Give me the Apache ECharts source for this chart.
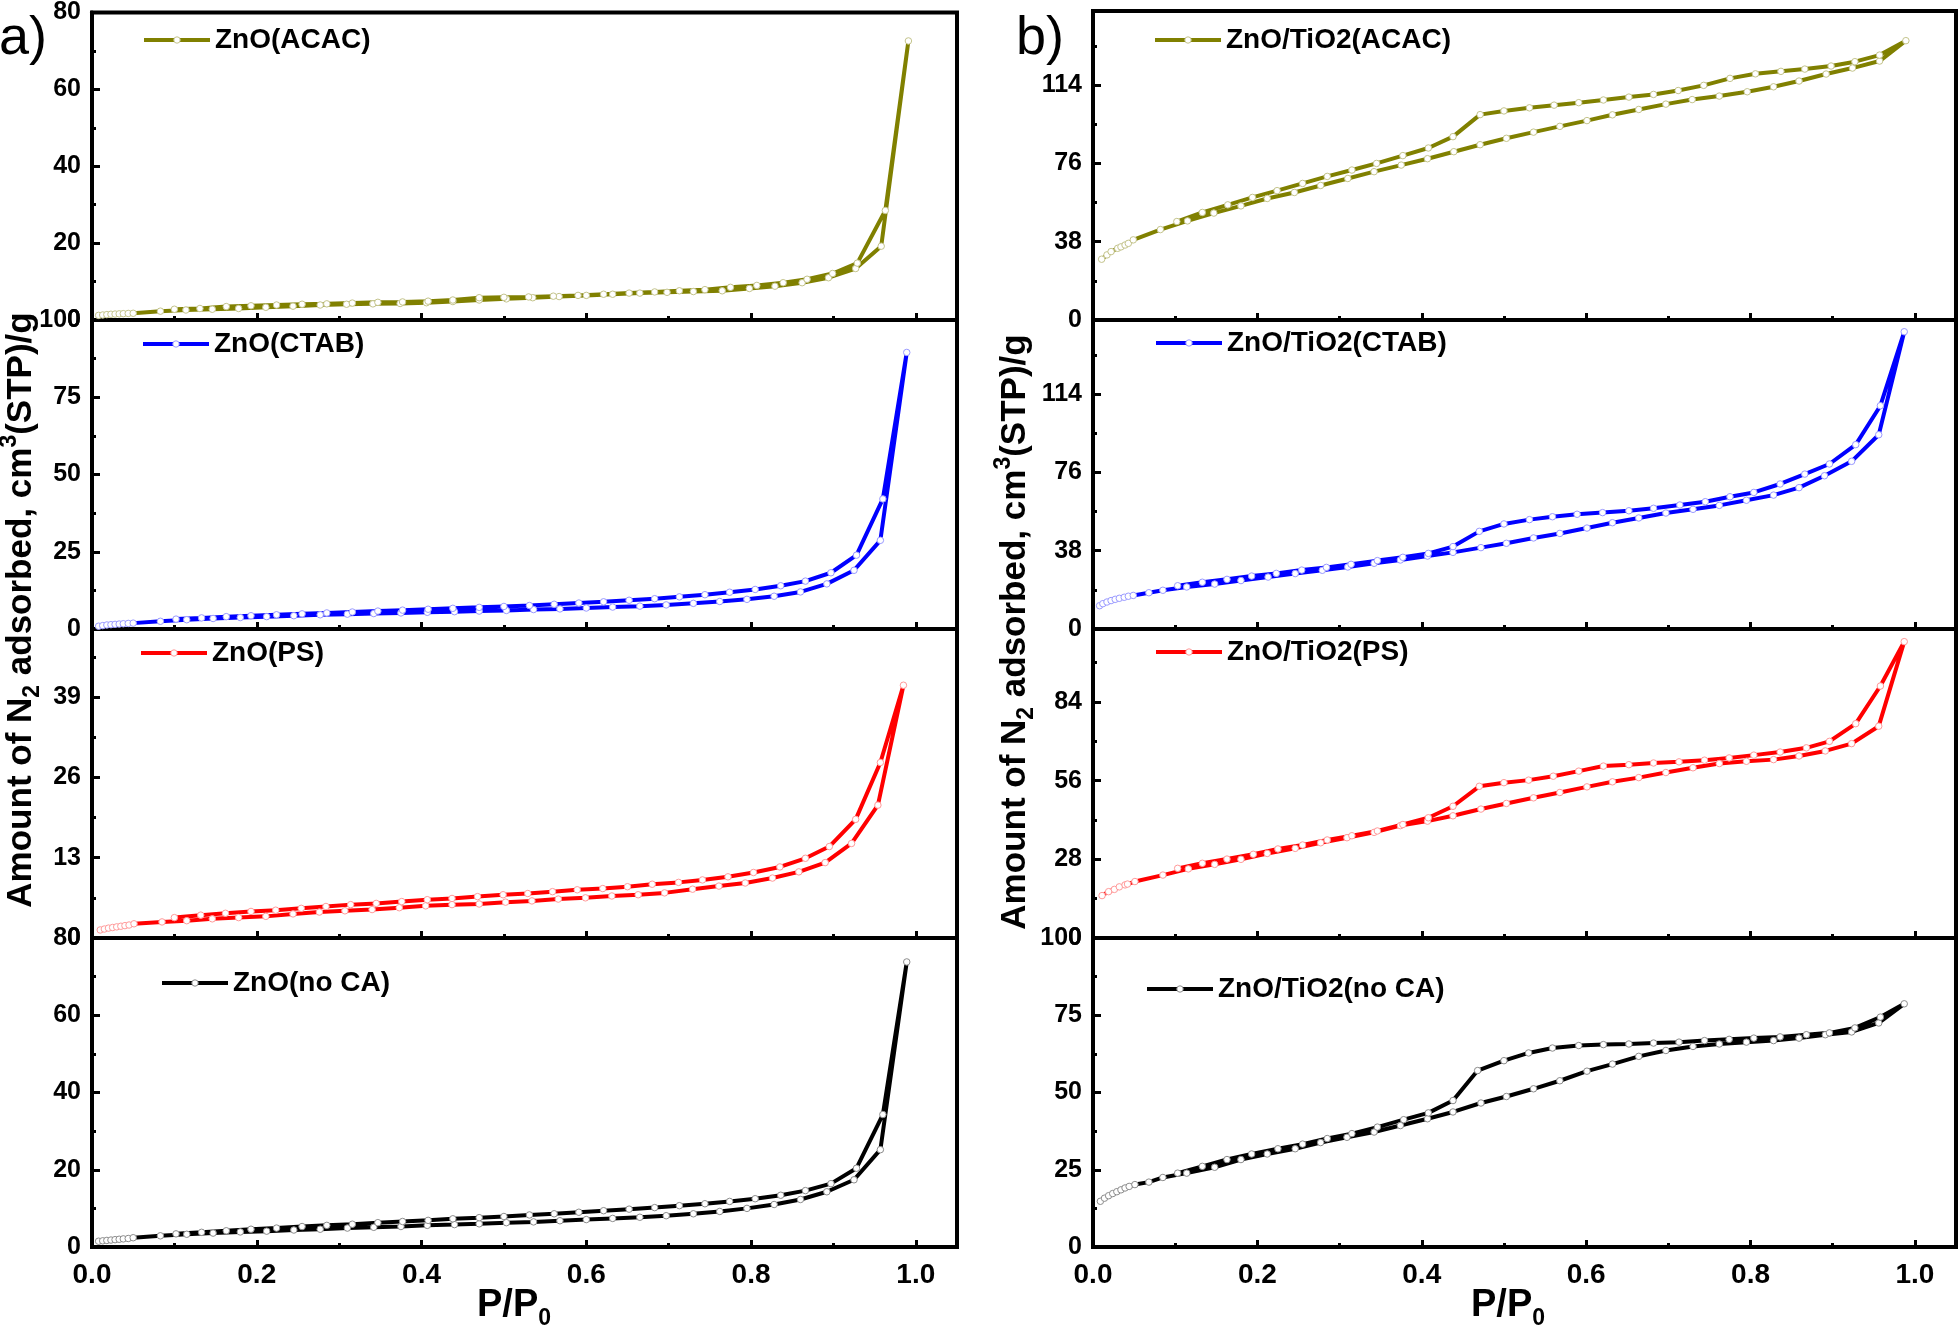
<!DOCTYPE html>
<html>
<head>
<meta charset="utf-8">
<script src="https://cdn.jsdelivr.net/npm/echarts@6/dist/echarts.min.js"></script>
<style>
html,body{margin:0;padding:0;background:#fff;}
#chart{width:1959px;height:1332px;}
</style>
</head>
<body>
<div id="chart"></div>
<script>
// ---------------- DATA (P/P0, volume) ----------------
// a) ZnO
const znoAcacAds = [[0.008,1.2],[0.013,1.3],[0.018,1.4],[0.023,1.5],[0.028,1.55],[0.033,1.6],[0.038,1.65],[0.044,1.7],[0.05,1.75],
  [0.083,2.3],[0.114,2.6],[0.146,2.8],[0.178,3.0],[0.211,3.3],[0.244,3.6],[0.277,3.9],[0.309,4.1],[0.341,4.2],[0.374,4.3],[0.406,4.5],
  [0.438,4.8],[0.47,5.2],[0.503,5.5],[0.535,5.8],[0.567,6.1],[0.6,6.4],[0.632,6.7],[0.665,7.0],[0.698,7.2],[0.73,7.4],[0.765,7.6],
  [0.798,8.2],[0.829,8.8],[0.862,9.7],[0.894,11.0],[0.927,13.4],[0.958,19.2],[0.991,72.6]];
const znoAcacDes = [[0.963,28.5],[0.929,14.8],[0.899,12.1],[0.868,10.6],[0.839,9.7],[0.807,9.0],[0.775,8.5],[0.744,7.9],[0.713,7.6],
  [0.683,7.3],[0.652,7.0],[0.621,6.7],[0.59,6.4],[0.56,6.2],[0.53,6.0],[0.5,5.9],[0.47,5.8],[0.438,5.2],[0.408,4.9],[0.377,4.7],
  [0.347,4.6],[0.316,4.4],[0.285,4.2],[0.255,4.1],[0.224,3.9],[0.193,3.7],[0.163,3.5],[0.131,3.0],[0.1,2.8]];

const znoCtabAds = [[0.008,0.9],[0.013,1.1],[0.018,1.3],[0.023,1.4],[0.028,1.5],[0.033,1.6],[0.038,1.7],[0.044,1.8],[0.05,1.9],
  [0.083,2.5],[0.115,3.0],[0.147,3.4],[0.18,3.7],[0.212,4.0],[0.245,4.3],[0.277,4.6],[0.31,4.8],[0.342,5.0],[0.375,5.2],[0.407,5.4],
  [0.44,5.6],[0.47,5.8],[0.503,6.0],[0.536,6.3],[0.568,6.5],[0.6,6.8],[0.632,7.1],[0.665,7.4],[0.697,7.8],[0.73,8.3],[0.762,8.9],
  [0.795,9.6],[0.828,10.6],[0.86,12.0],[0.892,14.6],[0.925,19.0],[0.957,28.7],[0.989,89.5]];
const znoCtabDes = [[0.96,42.1],[0.928,23.9],[0.897,18.2],[0.866,15.5],[0.836,14.0],[0.805,12.8],[0.774,11.9],[0.744,11.1],[0.713,10.4],
  [0.683,9.8],[0.652,9.3],[0.621,8.8],[0.591,8.4],[0.561,8.0],[0.531,7.6],[0.5,7.3],[0.47,7.0],[0.438,6.7],[0.408,6.4],[0.377,6.1],
  [0.347,5.8],[0.316,5.5],[0.285,5.2],[0.255,4.9],[0.224,4.6],[0.193,4.3],[0.163,4.0],[0.133,3.6],[0.102,3.2]];

const znoPsAds = [[0.01,1.3],[0.015,1.45],[0.02,1.6],[0.025,1.7],[0.03,1.8],[0.035,1.9],[0.04,2.0],[0.045,2.1],[0.051,2.3],
  [0.085,2.6],[0.115,2.8],[0.146,3.1],[0.178,3.3],[0.211,3.5],[0.244,3.9],[0.276,4.2],[0.307,4.4],[0.34,4.6],[0.373,4.9],[0.405,5.2],
  [0.437,5.4],[0.47,5.5],[0.502,5.8],[0.534,6.0],[0.566,6.3],[0.599,6.5],[0.631,6.8],[0.663,7.0],[0.695,7.3],[0.729,7.9],[0.761,8.4],
  [0.793,8.9],[0.826,9.7],[0.858,10.7],[0.89,12.2],[0.922,15.3],[0.954,21.5],[0.985,40.9]];
const znoPsDes = [[0.957,28.4],[0.927,19.2],[0.895,14.8],[0.866,12.9],[0.835,11.5],[0.803,10.6],[0.772,9.9],[0.741,9.4],[0.712,9.0],
  [0.68,8.7],[0.65,8.3],[0.62,8.0],[0.589,7.8],[0.559,7.5],[0.529,7.2],[0.499,7.0],[0.468,6.7],[0.437,6.4],[0.407,6.2],[0.376,5.9],
  [0.345,5.6],[0.314,5.4],[0.284,5.1],[0.254,4.8],[0.223,4.5],[0.193,4.3],[0.162,4.0],[0.132,3.7],[0.1,3.3]];

const znoNoAds = [[0.008,1.5],[0.013,1.6],[0.018,1.7],[0.023,1.8],[0.028,1.9],[0.033,2.0],[0.038,2.1],[0.044,2.2],[0.05,2.4],
  [0.083,2.9],[0.115,3.3],[0.147,3.6],[0.18,3.9],[0.212,4.1],[0.245,4.4],[0.277,4.6],[0.31,4.9],[0.342,5.1],[0.375,5.3],[0.407,5.6],
  [0.44,5.8],[0.47,6.0],[0.503,6.3],[0.536,6.5],[0.568,6.8],[0.6,7.1],[0.632,7.4],[0.665,7.7],[0.697,8.1],[0.73,8.6],[0.762,9.2],
  [0.795,10.0],[0.828,11.0],[0.86,12.3],[0.892,14.3],[0.925,17.4],[0.957,25.2],[0.989,73.8]];
const znoNoDes = [[0.96,34.3],[0.928,20.4],[0.897,16.4],[0.866,14.6],[0.836,13.4],[0.805,12.5],[0.774,11.8],[0.744,11.2],[0.713,10.7],
  [0.683,10.2],[0.652,9.8],[0.621,9.4],[0.591,9.0],[0.561,8.6],[0.531,8.3],[0.5,7.9],[0.47,7.6],[0.438,7.3],[0.408,6.9],[0.377,6.6],
  [0.347,6.3],[0.316,5.9],[0.285,5.6],[0.255,5.3],[0.224,4.9],[0.193,4.6],[0.163,4.2],[0.133,3.8],[0.102,3.4]];

// b) ZnO/TiO2
const ztAcacAds = [[0.0105,29.5],[0.017,31.6],[0.022,33.2],[0.03,34.8],[0.034,35.5],[0.039,36.4],[0.043,37.2],[0.049,38.9],
  [0.082,43.9],[0.115,48.1],[0.147,51.9],[0.18,55.4],[0.212,59.0],[0.245,61.9],[0.277,65.3],[0.31,68.7],[0.342,72.0],[0.375,75.2],
  [0.407,78.3],[0.439,81.7],[0.471,85.1],[0.503,88.2],[0.536,91.2],[0.568,94.0],[0.601,96.8],[0.632,99.6],[0.664,102.2],[0.697,104.8],
  [0.729,107.0],[0.762,108.7],[0.796,110.8],[0.828,113.2],[0.859,116.0],[0.892,119.4],[0.924,122.3],[0.957,125.7],[0.989,135.6]];
const ztAcacDes = [[0.957,128.6],[0.927,125.4],[0.898,123.3],[0.866,121.8],[0.837,120.7],[0.806,119.5],[0.775,117.3],[0.743,113.9],
  [0.712,111.4],[0.682,109.5],[0.652,108.2],[0.621,106.8],[0.591,105.5],[0.561,104.3],[0.531,103.0],[0.5,101.5],[0.471,99.7],
  [0.438,89.0],[0.408,83.5],[0.377,79.8],[0.345,76.0],[0.315,72.8],[0.285,69.7],[0.255,66.3],[0.224,62.8],[0.194,59.5],[0.164,55.9],
  [0.133,52.2],[0.102,47.8]];

const ztCtabAds = [[0.008,11.3],[0.012,12.3],[0.017,13.1],[0.022,13.8],[0.027,14.4],[0.032,14.9],[0.038,15.4],[0.043,15.9],[0.049,16.3],
  [0.068,17.6],[0.085,18.8],[0.114,20.4],[0.148,21.8],[0.18,23.5],[0.213,25.2],[0.246,26.9],[0.279,28.5],[0.31,30.1],[0.342,31.9],
  [0.374,33.5],[0.407,35.4],[0.438,37.2],[0.472,39.5],[0.503,41.6],[0.536,44.2],[0.568,46.4],[0.601,49.0],[0.632,51.6],[0.664,53.9],
  [0.697,56.3],[0.73,58.1],[0.762,60.0],[0.795,62.5],[0.828,65.0],[0.859,68.6],[0.89,74.4],[0.923,81.4],[0.956,94.3],[0.987,144.3]];
const ztCtabDes = [[0.958,108.4],[0.928,89.5],[0.896,80.1],[0.866,75.2],[0.836,70.4],[0.804,66.3],[0.775,64.2],[0.745,61.8],[0.714,60.2],
  [0.682,58.6],[0.652,57.4],[0.62,56.5],[0.589,55.7],[0.559,54.5],[0.531,53.1],[0.5,51.0],[0.47,47.4],[0.438,40.0],[0.408,36.7],
  [0.377,34.8],[0.346,33.2],[0.314,31.4],[0.284,29.9],[0.254,28.6],[0.223,27.0],[0.193,25.7],[0.163,24.1],[0.133,22.7],[0.103,21.0]];

const ztPsAds = [[0.011,15.1],[0.019,16.5],[0.026,17.3],[0.032,18.2],[0.039,18.9],[0.042,19.2],[0.051,20.1],
  [0.085,22.4],[0.116,24.6],[0.148,26.2],[0.18,28.0],[0.212,30.1],[0.246,31.9],[0.277,33.9],[0.309,35.7],[0.342,37.6],[0.374,40.0],
  [0.407,41.6],[0.438,43.5],[0.472,45.9],[0.503,47.9],[0.536,49.9],[0.568,51.8],[0.601,53.8],[0.632,55.6],[0.664,57.1],[0.697,58.9],
  [0.73,60.6],[0.762,62.1],[0.795,62.9],[0.828,63.5],[0.859,64.8],[0.891,66.6],[0.923,69.2],[0.956,75.4],[0.987,105.5]];
const ztPsDes = [[0.958,89.7],[0.928,76.3],[0.896,70.0],[0.868,67.7],[0.836,66.2],[0.804,65.1],[0.774,64.1],[0.744,63.3],[0.713,62.7],
  [0.682,62.3],[0.652,61.7],[0.621,61.2],[0.591,59.4],[0.56,57.6],[0.53,56.2],[0.5,55.3],[0.47,54.0],[0.438,46.9],[0.408,42.8],
  [0.377,40.4],[0.346,38.1],[0.315,36.4],[0.285,34.9],[0.255,33.1],[0.225,31.7],[0.195,29.8],[0.163,28.1],[0.133,26.6],[0.103,24.8]];

const ztNoAds = [[0.009,14.8],[0.014,15.8],[0.019,16.6],[0.024,17.3],[0.029,17.9],[0.034,18.5],[0.039,19.1],[0.044,19.6],
  [0.051,20.2],[0.068,21.0],[0.085,22.5],[0.114,23.9],[0.148,25.8],[0.18,28.3],[0.212,30.1],[0.246,31.8],[0.277,33.8],[0.309,35.5],
  [0.342,37.2],[0.374,39.3],[0.407,41.5],[0.438,43.7],[0.472,46.6],[0.503,48.7],[0.536,51.2],[0.568,53.8],[0.601,56.9],[0.632,59.2],
  [0.664,61.7],[0.697,63.6],[0.73,64.9],[0.762,65.7],[0.795,66.3],[0.828,66.8],[0.859,67.6],[0.891,68.7],[0.923,69.6],[0.956,72.5],[0.987,78.7]];
const ztNoDes = [[0.958,74.4],[0.927,70.9],[0.896,69.3],[0.868,68.7],[0.836,68.0],[0.804,67.6],[0.774,67.2],[0.744,66.8],[0.713,66.3],
  [0.682,66.0],[0.652,65.7],[0.621,65.5],[0.591,65.2],[0.559,64.4],[0.53,62.8],[0.5,60.3],[0.468,57.1],[0.438,47.4],[0.408,43.4],
  [0.378,41.2],[0.346,38.8],[0.315,36.7],[0.285,35.1],[0.255,33.3],[0.225,31.8],[0.193,30.1],[0.163,28.3],[0.133,26.1],[0.103,23.9]];

// panel names & y-axis scales
const names = ['ZnO(ACAC)','ZnO(CTAB)','ZnO(PS)','ZnO(no CA)','ZnO/TiO2(ACAC)','ZnO/TiO2(CTAB)','ZnO/TiO2(PS)','ZnO/TiO2(no CA)'];
const yMax = [80, 100, 50, 80, 150, 150, 110, 100];
const yStep = [20, 25, 13, 20, 38, 38, 28, 25];
const seriesData = [
  znoAcacAds.concat(znoAcacDes), znoCtabAds.concat(znoCtabDes), znoPsAds.concat(znoPsDes), znoNoAds.concat(znoNoDes),
  ztAcacAds.concat(ztAcacDes), ztCtabAds.concat(ztCtabDes), ztPsAds.concat(ztPsDes), ztNoAds.concat(ztNoDes)
];

// ---------------- STYLE / LAYOUT ----------------
const lineColors = ['#808000','#0000ff','#ff0000','#000000','#808000','#0000ff','#ff0000','#000000'];
const edgeColors = ['#c4c48c','#9a9aff','#ff9a9a','#8c8c8c','#c4c48c','#9a9aff','#ff9a9a','#8c8c8c'];
const colLeft = [92, 1093], colWidth = [865, 863];
const rowTop = [11, 320, 629, 938], rowH = 309;
const legendPos = [[142,26],[141,330],[139,639],[160,969],[1153,26],[1154,329],[1154,638],[1145,975]];
const FONT = '"Liberation Sans", Arial, sans-serif';

const grids = [], xAxes = [], yAxes = [], series = [], legends = [];
for (let i = 0; i < 8; i++) {
  const col = i < 4 ? 0 : 1, row = i % 4;
  grids.push({left: colLeft[col], top: rowTop[row], width: colWidth[col], height: rowH,
    show: true, borderColor: '#000', borderWidth: 4, backgroundColor: 'transparent'});
  xAxes.push({type: 'value', gridIndex: i, min: 0, max: 1.05, interval: 0.2,
    axisLine: {show: true, onZero: false, lineStyle: {color: '#000', width: 4}},
    axisTick: {show: true, inside: true, length: 7, lineStyle: {color: '#000', width: 3}},
    minorTick: {show: true, splitNumber: 2, length: 4, lineStyle: {color: '#000', width: 3}},
    splitLine: {show: false}, minorSplitLine: {show: false},
    axisLabel: {show: row === 3, showMaxLabel: false, color: '#000', fontFamily: FONT, fontWeight: 'bold', fontSize: 28, margin: 14,
      formatter: v => v.toFixed(1)}});
  yAxes.push({type: 'value', gridIndex: i, min: 0, max: yMax[i], interval: yStep[i],
    axisLine: {show: true, onZero: false, lineStyle: {color: '#000', width: 4}},
    axisTick: {show: true, inside: true, length: 8, lineStyle: {color: '#000', width: 3}},
    minorTick: {show: true, splitNumber: 2, length: 4, lineStyle: {color: '#000', width: 3}},
    splitLine: {show: false}, minorSplitLine: {show: false},
    axisLabel: {color: '#000', fontFamily: FONT, fontWeight: 'bold', fontSize: 25, margin: 11,
      showMaxLabel: (yMax[i] % yStep[i] === 0)}});
  series.push({type: 'line', name: names[i], xAxisIndex: i, yAxisIndex: i, data: seriesData[i],
    symbol: 'circle', symbolSize: 6.5, showSymbol: true, showAllSymbol: true, clip: false,
    lineStyle: {color: lineColors[i], width: 4},
    itemStyle: {color: '#ffffff', borderColor: edgeColors[i], borderWidth: 1},
    emphasis: {disabled: true}, animation: false});
  legends.push({show: true, data: [names[i]], left: legendPos[i][0], top: legendPos[i][1], orient: 'horizontal',
    itemWidth: 66, itemHeight: 8, itemGap: 0, padding: 0, selectedMode: false,
    lineStyle: {width: 4, color: lineColors[i]},
    itemStyle: {color: '#ffffff', borderColor: edgeColors[i], borderWidth: 1},
    textStyle: {color: '#000', fontFamily: FONT, fontWeight: 'bold', fontSize: 28}});
}

const titleRich = {
  sub: {fontFamily: FONT, fontWeight: 'bold', fontSize: 23, lineHeight: 22, verticalAlign: 'bottom', fill: '#000'},
  sup: {fontFamily: FONT, fontWeight: 'bold', fontSize: 23, lineHeight: 22, verticalAlign: 'top', fill: '#000'}
};
function yTitle(x, y) {
  return {type: 'text', x: x, y: y, rotation: Math.PI / 2, z: 10,
    style: {text: 'Amount of N{sub|2} adsorbed, cm{sup|3}(STP)/g', rich: titleRich,
      font: 'bold 35px ' + FONT, fill: '#000', align: 'center', verticalAlign: 'middle', lineHeight: 46}};
}
function xTitle(x) {
  return {type: 'text', x: x, y: 1306, z: 10,
    style: {text: 'P/P{sub|0}', rich: titleRich, font: 'bold 38px ' + FONT, fill: '#000',
      align: 'center', verticalAlign: 'middle', lineHeight: 48}};
}

const chart = echarts.init(document.getElementById('chart'), null, {renderer: 'canvas'});
chart.setOption({
  backgroundColor: '#ffffff',
  animation: false,
  grid: grids, xAxis: xAxes, yAxis: yAxes, series: series, legend: legends,
  graphic: [
    {type: 'text', x: -1, y: 12, style: {text: 'a)', font: '54px ' + FONT, fill: '#000'}},
    {type: 'text', x: 1016, y: 12, style: {text: 'b)', font: '54px ' + FONT, fill: '#000'}},
    yTitle(21, 610), yTitle(1015, 632), xTitle(514), xTitle(1508)
  ]
});
</script>
</body>
</html>
